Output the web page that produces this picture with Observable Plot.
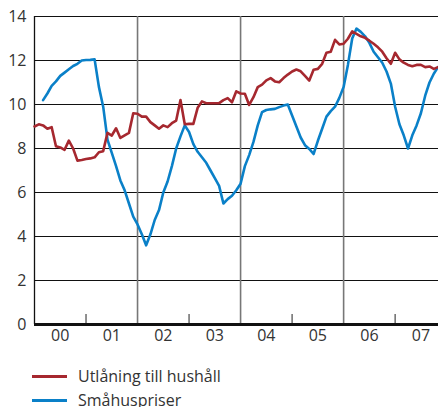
<!DOCTYPE html>
<html>
<head>
<meta charset="utf-8">
<script src="https://cdn.jsdelivr.net/npm/d3@7"></script>
<script src="https://cdn.jsdelivr.net/npm/@observablehq/plot@0.6"></script>
<style>
  html, body { margin: 0; padding: 0; background: #fff; }
  body { width: 438px; height: 407px; overflow: hidden; font-family: "Open Sans", "Noto Sans", sans-serif; }
  #legend { margin-top: 14px; font-size: 16px; color: #333; }
  .row { display: flex; align-items: center; height: 24px; }
  .sw { width: 35px; height: 3px; margin-left: 32px; margin-right: 11px; }
</style>
</head>
<body>
<div id="chart"></div>
<div id="legend"></div>
<script>
// Monthly observations, first value = January 2000
const startYear = 2000;
const seriesNames = ["Utlåning till hushåll", "Småhuspriser"];
const seriesColors = ["#a6282f", "#0a80c8"];

// Utlåning till hushåll (annual % change), Jan 2000 - Nov 2007
const lending = [
  9.0, 9.1, 9.05, 8.9, 8.97, 8.1, 8.05, 7.94, 8.36, 8.0, 7.45, 7.48,
  7.52, 7.55, 7.6, 7.83, 7.88, 8.71, 8.59, 8.92, 8.48, 8.6, 8.71, 9.6,
  9.58, 9.45, 9.45, 9.2, 9.05, 8.9, 9.05, 8.97, 9.15, 9.27, 10.2, 9.1,
  9.12, 9.12, 9.85, 10.14, 10.06, 10.06, 10.06, 10.06, 10.2, 10.29, 10.1, 10.6,
  10.5, 10.49, 9.98, 10.33, 10.79, 10.9, 11.1, 11.2, 11.05, 11.01, 11.2, 11.36,
  11.5, 11.59, 11.51, 11.3, 11.09, 11.58, 11.62, 11.85, 12.35, 12.4, 12.94, 12.73,
  12.76, 12.99, 13.32, 13.21, 13.1, 13.03, 12.9, 12.76, 12.6, 12.4, 12.1, 11.85,
  12.35, 12.05, 11.9, 11.8, 11.74, 11.8, 11.8, 11.7, 11.73, 11.62, 11.7
];

// Småhuspriser (annual % change), starts March 2000 (null = no data)
const housePrices = [
  null, null, 10.2, 10.5, 10.85, 11.05, 11.3, 11.45, 11.6, 11.75, 11.85, 12.0,
  12.02, 12.03, 12.05, 10.8, 9.9, 8.4, 7.8, 7.2, 6.55, 6.1, 5.5, 4.9,
  4.55, 4.1, 3.6, 4.1, 4.75, 5.2, 6.0, 6.5, 7.2, 8.0, 8.55, 9.05,
  8.75, 8.2, 7.85, 7.6, 7.35, 7.0, 6.65, 6.3, 5.5, 5.7, 5.85, 6.1,
  6.4, 7.2, 7.7, 8.3, 9.05, 9.65, 9.75, 9.78, 9.8, 9.88, 9.95, 10.0,
  9.5, 9.0, 8.5, 8.15, 7.98, 7.75, 8.35, 8.9, 9.45, 9.7, 9.9, 10.3,
  10.8, 11.8, 13.0, 13.45, 13.3, 13.1, 12.8, 12.4, 12.15, 11.9, 11.5, 10.95,
  9.9, 9.1, 8.6, 8.0, 8.6, 9.05, 9.6, 10.4, 11.0, 11.4, 11.7
];

const yearLabels = ["00", "01", "02", "03", "04", "05", "06", "07"];
const yTicks = [0, 2, 4, 6, 8, 10, 12, 14];
const sepYears = [2002, 2004, 2006];
const minorYears = [2001, 2003, 2005, 2007];

const toRows = (arr) => arr.map((v, i) => ({x: startYear + i / 12, y: v})).filter(d => d.y != null);
const lendingRows = toRows(lending);
const houseRows = toRows(housePrices);
const labelPos = yearLabels.map((_, i) => startYear + i + 0.5);

const chart = Plot.plot({
  width: 438,
  height: 350,
  marginLeft: 34,
  marginRight: 0,
  marginTop: 16,
  marginBottom: 26,
  style: {fontFamily: '"Open Sans", "Noto Sans", sans-serif', fontSize: "16px", color: "#333", background: "#fff"},
  x: {domain: [2000, 2000 + 94.1 / 12]},
  y: {domain: [0, 14]},
  marks: [
    Plot.ruleY(yTicks.filter(d => d > 0), {stroke: "#111", strokeWidth: 1.2}),
    Plot.ruleX(sepYears, {stroke: "#777", strokeWidth: 1.6}),
    Plot.ruleX(minorYears, {y1: 0, y2: 0.45, stroke: "#555", strokeWidth: 1.3}),
    Plot.ruleX([2000], {stroke: "#111", strokeWidth: 1.3}),
    Plot.line(houseRows, {x: "x", y: "y", stroke: seriesColors[1], strokeWidth: 2.6, strokeLinejoin: "round"}),
    Plot.line(lendingRows, {x: "x", y: "y", stroke: seriesColors[0], strokeWidth: 2.6, strokeLinejoin: "round"}),
    Plot.ruleY([0], {stroke: "#111", strokeWidth: 3}),
    Plot.axisY({ticks: yTicks, tickSize: 0, tickPadding: 8, label: null, fill: "#333"}),
    Plot.axisX({ticks: labelPos, tickSize: 0, tickPadding: 5, label: null, fill: "#333",
      tickFormat: (d) => yearLabels[Math.floor(d) - startYear]})
  ]
});
document.getElementById("chart").appendChild(chart);

const legend = document.getElementById("legend");
seriesNames.forEach((name, i) => {
  const row = document.createElement("div");
  row.className = "row";
  const sw = document.createElement("div");
  sw.className = "sw";
  sw.style.background = seriesColors[i];
  const t = document.createElement("span");
  t.textContent = name;
  row.appendChild(sw);
  row.appendChild(t);
  legend.appendChild(row);
});
</script>
</body>
</html>
